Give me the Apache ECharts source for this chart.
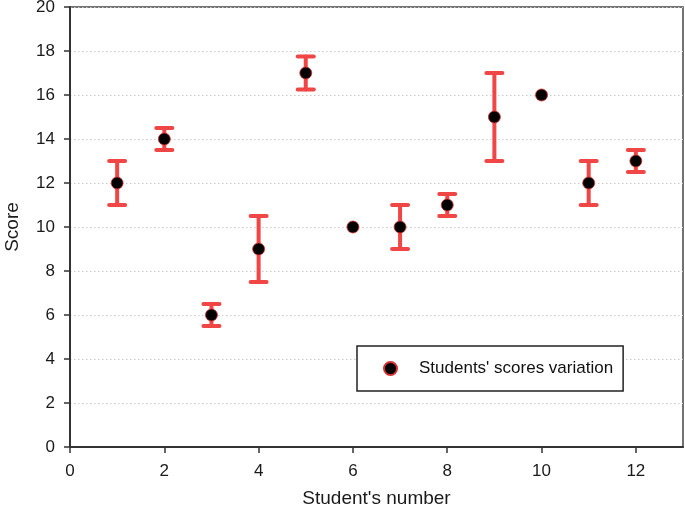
<!DOCTYPE html>
<html><head><meta charset="utf-8">
<script src="https://cdn.jsdelivr.net/npm/echarts@6/dist/echarts.min.js"></script>
<style>html,body{margin:0;padding:0;background:#fff}#c{width:685px;height:517px}</style>
</head><body><div id="c"></div>
<script>
const students = [1,2,3,4,5,6,7,8,9,10,11,12];
const scores   = [12,14,6,9,17,10,10,11,15,16,12,13];
const lowVals  = [11,13.5,5.5,7.5,16.25,10,9,10.5,13,16,11,12.5];
const highVals = [13,14.5,6.5,10.5,17.75,10,11,11.5,17,16,13,13.5];
const xTicks = [0,2,4,6,8,10,12];
const yTicks = [0,2,4,6,8,10,12,14,16,18,20];

const chart = echarts.init(document.getElementById('c'), null, {renderer:'canvas'});
const font = 'Liberation Sans, Arial, sans-serif';
const errColor = '#f04646';
const errData = students.map((s,i)=>[s, lowVals[i], highVals[i]]);
chart.setOption({
  animation:false,
  grid:{left:70, top:7, right:2, bottom:70, outerBoundsMode:'none', containLabel:false,
    show:true, borderColor:'#444', borderWidth:1.5, backgroundColor:'#fff'},
  xAxis:{type:'value', min:0, max:13, interval:2,
    name:"Student's number", nameLocation:'middle', nameGap:42,
    nameTextStyle:{fontFamily:font, fontSize:19, color:'#1a1a1a'},
    axisLine:{show:true, onZero:false, lineStyle:{color:'#333', width:2}},
    axisTick:{show:true, inside:false, length:6, lineStyle:{color:'#333', width:1.5}, customValues:xTicks},
    axisLabel:{fontFamily:font, fontSize:17, color:'#1a1a1a', margin:16, customValues:xTicks},
    splitLine:{show:false}},
  yAxis:{type:'value', min:0, max:20, interval:2,
    name:'Score', nameLocation:'middle', nameGap:48, nameRotate:90,
    nameTextStyle:{fontFamily:font, fontSize:19, color:'#1a1a1a'},
    axisLine:{show:true, onZero:false, lineStyle:{color:'#333', width:2}},
    axisTick:{show:true, inside:false, length:6, lineStyle:{color:'#333', width:1.5}, customValues:yTicks},
    axisLabel:{fontFamily:font, fontSize:17, color:'#1a1a1a', margin:15, customValues:yTicks},
    splitLine:{show:true, lineStyle:{color:'#c8c8c8', type:[1.5,2.5], width:1}}},
  legend:{left:357, top:346, orient:'horizontal',
    padding:[14,10,14,26], borderColor:'#222', borderWidth:1.5, backgroundColor:'#fff',
    itemWidth:13, itemHeight:13, itemGap:10,
    textStyle:{fontFamily:font, fontSize:17, color:'#111', padding:[0,0,0,17]},
    data:[{name:"Students' scores variation", icon:'circle'}]},
  series:[
    {type:'custom', name:'err', silent:true, z:2,
     data:errData,
     renderItem:function(params, api){
       const x = api.value(0), lo = api.value(1), hi = api.value(2);
       if (lo === hi) return null;
       const pLo = api.coord([x, lo]), pHi = api.coord([x, hi]);
       const cap = 8;
       const st = {stroke:errColor, lineWidth:4, lineCap:'round'};
       return {type:'group', children:[
         {type:'line', shape:{x1:pLo[0], y1:pLo[1], x2:pHi[0], y2:pHi[1]}, style:st},
         {type:'line', shape:{x1:pLo[0]-cap, y1:pLo[1], x2:pLo[0]+cap, y2:pLo[1]}, style:st},
         {type:'line', shape:{x1:pHi[0]-cap, y1:pHi[1], x2:pHi[0]+cap, y2:pHi[1]}, style:st}
       ]};
     }},
    {type:'scatter', name:"Students' scores variation", z:3,
     symbol:'circle', symbolSize:12,
     itemStyle:{color:'#000', borderColor:'#d83030', borderWidth:0.8, opacity:1},
     data:students.map((s,i)=>[s, scores[i]])}
  ]
});
</script></body></html>
